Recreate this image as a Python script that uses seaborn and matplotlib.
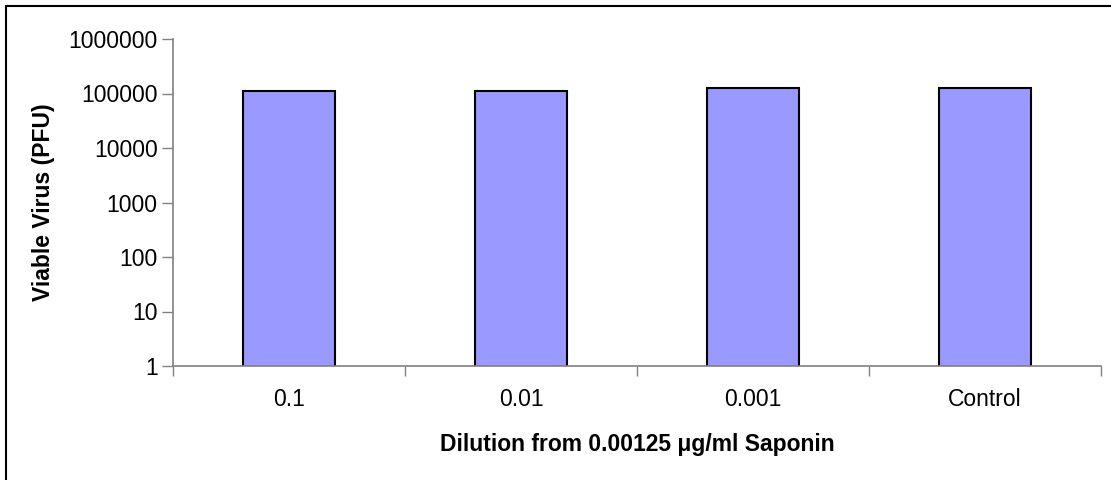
# viable virus after saponin dilution - log bar chart
import matplotlib
matplotlib.use("Agg")
import matplotlib.pyplot as plt
import matplotlib.patches as patches
from matplotlib.ticker import FixedLocator, FuncFormatter, NullLocator
import seaborn as sns

dilutions = ["0.1", "0.01", "0.001", "Control"]
pfu = [109000, 109000, 127000, 127000]
yticks = [1, 10, 100, 1000, 10000, 100000, 1000000]

sns.set_style("white")
plt.rcParams["font.family"] = ["Liberation Sans", "DejaVu Sans"]
plt.rcParams["text.color"] = "black"
plt.rcParams["axes.labelcolor"] = "black"
plt.rcParams["xtick.labelcolor"] = "black"
plt.rcParams["ytick.labelcolor"] = "black"

fig = plt.figure(figsize=(11.11, 4.8), dpi=100)
ax = fig.add_axes([173 / 1111, 1 - 366 / 480, (1101 - 173) / 1111, (366 - 39) / 480])
ax.set_yscale("log")

sns.barplot(x=dilutions, y=pfu, color="#9999FF", edgecolor="black",
            linewidth=1.5, width=0.4, saturation=1, ax=ax)

ax.set_ylim(1, 1000000)
ax.set_xlim(-0.5, 3.5)
ax.yaxis.set_major_locator(FixedLocator(yticks))
ax.yaxis.set_minor_locator(NullLocator())
ax.yaxis.set_major_formatter(FuncFormatter(lambda v, p: f"{int(round(v))}"))

# excel style: tick marks between categories
ax.set_xticks([-0.5, 0.5, 1.5, 2.5, 3.5], minor=True)
ax.tick_params(axis="x", which="major", bottom=True, length=0, labelsize=16.5,
               pad=16, labelcolor="black")
ax.tick_params(axis="x", which="minor", bottom=True, length=7, width=1,
               color="#808080", direction="out")
ax.tick_params(axis="y", left=True, length=8, width=1, color="#808080",
               direction="out", labelsize=16.5, pad=3, labelcolor="black")

for s in ["top", "right"]:
    ax.spines[s].set_visible(False)
for s in ["left", "bottom"]:
    ax.spines[s].set_color("#808080")
    ax.spines[s].set_linewidth(1.2)

ax.set_xlabel("Dilution from 0.00125 \u03bcg/ml Saponin", fontsize=16.5,
              fontweight="bold", labelpad=16, color="black")
ax.set_ylabel("Viable Virus (PFU)", fontsize=16.5, fontweight="bold",
              labelpad=10, color="black")

# outer chart frame (cut off at right/bottom in the original)
fig.patches.append(patches.Rectangle((6 / 1111, -0.1), 1.2, 1 - 6 / 480 + 0.1,
                                     transform=fig.transFigure, fill=False,
                                     edgecolor="black", linewidth=1.5))

fig.savefig("out.png", dpi=100)
